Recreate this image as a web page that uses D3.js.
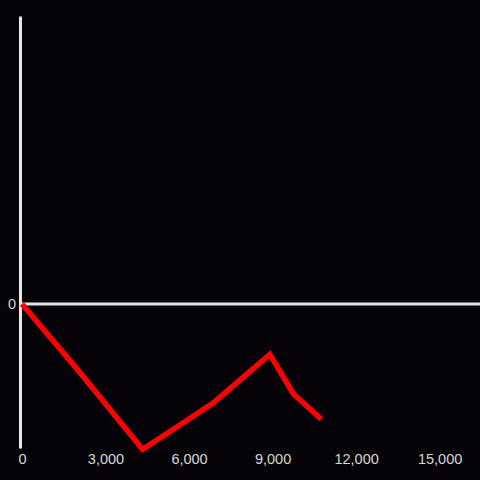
<!DOCTYPE html>
<html>
<head>
<meta charset="utf-8">
<script src="https://cdn.jsdelivr.net/npm/d3@7"></script>
<style>
  html, body { margin: 0; padding: 0; background: #050307; }
  svg { display: block; }
  .axis text { fill: #d8d8d8; font-family: "Liberation Sans", Arial, sans-serif; font-size: 14.5px; }
</style>
</head>
<body>
<div id="chart"></div>
<script>
// series values
var xValues = [0, 2100, 4330, 6850, 8900, 9750, 10750];
var yValues = [0, -0.48, -1.01, -0.69, -0.35, -0.625, -0.8];
var xTicks = [0, 3000, 6000, 9000, 12000, 15000];
var yTicks = [0];

var width = 480, height = 480;

var x = d3.scaleLinear().domain([-70, 16450]).range([20, 480]);
var y = d3.scaleLinear().domain([-1, 2]).range([448, 16]);

var svg = d3.select('#chart')
  .append('svg')
    .attr('width', width)
    .attr('height', height);

svg.append('rect')
  .attr('width', width)
  .attr('height', height)
  .attr('fill', '#050307');

// zero line across the plot
svg.append('line')
  .attr('x1', x.range()[0])
  .attr('x2', x.range()[1])
  .attr('y1', y(0))
  .attr('y2', y(0))
  .attr('stroke', '#e6e6e6')
  .attr('stroke-width', 3);

// y axis
var yAxis = svg.append('g')
  .attr('class', 'axis')
  .attr('transform', 'translate(' + x.range()[0] + ',0)')
  .call(d3.axisLeft(y).tickValues(yTicks).tickSize(0).tickPadding(4)
    .tickFormat(d3.format('d')));
yAxis.select('.domain')
  .attr('stroke', '#e6e6e6')
  .attr('stroke-width', 3);

// x axis labels (no line)
var xAxis = svg.append('g')
  .attr('class', 'axis')
  .attr('transform', 'translate(0,' + 448 + ')')
  .call(d3.axisBottom(x).tickValues(xTicks).tickSize(0).tickPadding(6)
    .tickFormat(d3.format(',')));
xAxis.select('.domain').remove();

var data = xValues.map(function(d, i) { return {x: d, y: yValues[i]}; });

var valueline = d3.line()
  .x(function(d) { return x(d.x); })
  .y(function(d) { return y(d.y); });

svg.append('path')
  .attr('d', valueline(data))
  .attr('fill', 'none')
  .attr('stroke', '#ff0000')
  .attr('stroke-width', 5.5)
  .attr('stroke-linejoin', 'miter');
</script>
</body>
</html>
